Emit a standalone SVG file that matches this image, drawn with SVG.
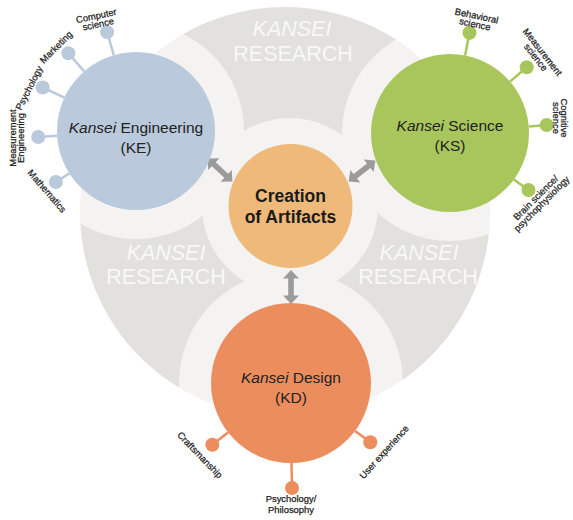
<svg xmlns="http://www.w3.org/2000/svg" width="573" height="520" viewBox="0 0 573 520">
  <style>
    .sat { font-family: "Liberation Sans", Arial, sans-serif; font-size: 9.4px; fill: #1c1c1c; stroke: #1c1c1c; stroke-width: 0.25px; text-anchor: middle; }
    .node { font-family: "Liberation Sans", Arial, sans-serif; font-size: 15.5px; fill: #222; text-anchor: middle; }
    .bg { font-family: "Liberation Sans", Arial, sans-serif; font-size: 21.5px; fill: #ffffff; fill-opacity: 0.8; text-anchor: middle; }
    .ke { fill: #bac9db; }
    .ks { fill: #a9c65c; }
    .kd { fill: #ec8d5e; }
    .ke-l { stroke: #bac9db; stroke-width: 2.5; }
    .ks-l { stroke: #a9c65c; stroke-width: 2.5; }
    .kd-l { stroke: #ec8d5e; stroke-width: 2.5; }
  </style>
  <defs>
    <clipPath id="researchClip">
      <circle cx="285" cy="212" r="205"/>
    </clipPath>
    <path id="dblArrow" d="M -17 0 L -8.5 -8 L -8.5 -2.8 L 8.5 -2.8 L 8.5 -8 L 17 0 L 8.5 8 L 8.5 2.8 L -8.5 2.8 L -8.5 8 Z"/>
  </defs>

  <rect width="573" height="520" fill="#ffffff"/>

  <!-- Kansei research backdrop -->
  <g id="research-backdrop">
    <circle cx="285" cy="212" r="205" fill="#e2e1de"/>
    <g opacity="0.62" fill="#ffffff">
      <circle cx="136" cy="131" r="108"/>
      <circle cx="450" cy="133" r="108"/>
      <circle cx="291" cy="383" r="112"/>
      <circle cx="290" cy="206" r="88"/>
    </g>
    <g clip-path="url(#researchClip)">
      <text class="bg" x="292" y="36" font-style="italic">KANSEI</text>
      <text class="bg" x="293" y="61">RESEARCH</text>
      <text class="bg" x="166" y="260" font-style="italic">KANSEI</text>
      <text class="bg" x="166" y="284">RESEARCH</text>
      <text class="bg" x="419" y="260" font-style="italic">KANSEI</text>
      <text class="bg" x="418" y="284">RESEARCH</text>
    </g>
  </g>

  <!-- links between the centre and the three fields -->
  <g id="connectors" fill="#9b9b9b">
    <use href="#dblArrow" transform="translate(220 170) rotate(43)"/>
    <use href="#dblArrow" transform="translate(362 171) rotate(-38)"/>
    <use href="#dblArrow" transform="translate(291 287) rotate(90)"/>
  </g>

  <!-- Kansei Engineering -->
  <g id="node-ke">
    <g class="ke-l">
      <line x1="113.8" y1="55.2" x2="107.1" y2="32.1"/>
      <line x1="84.2" y1="71.4" x2="68.4" y2="53.2"/>
      <line x1="64.4" y1="97.6" x2="42.7" y2="87.5"/>
      <line x1="57.2" y1="135.8" x2="38.2" y2="137"/>
      <line x1="69.4" y1="173.4" x2="55.9" y2="182"/>
    </g>
    <g class="ke">
      <circle cx="107.1" cy="32.1" r="7"/>
      <circle cx="68.4" cy="53.2" r="7"/>
      <circle cx="42.7" cy="87.5" r="7"/>
      <circle cx="38.2" cy="137" r="7"/>
      <circle cx="55.9" cy="182" r="7"/>
      <circle cx="136" cy="131" r="79"/>
    </g>
    <text class="node" x="136" y="133"><tspan font-style="italic">Kansei</tspan> Engineering</text>
    <text class="node" x="136" y="153">(KE)</text>
    <text class="sat" transform="translate(97 19) rotate(-12)"><tspan x="0" y="0">Computer</tspan><tspan x="0" y="8.5">science</tspan></text>
    <text class="sat" transform="translate(56 47) rotate(-45)" y="3.3">Marketing</text>
    <text class="sat" transform="translate(29 88) rotate(-63)" y="3.3">Psychology</text>
    <text class="sat" transform="translate(15.5 138) rotate(-90)"><tspan x="0" y="0">Measurement</tspan><tspan x="0" y="8.5">Engineering</tspan></text>
    <text class="sat" transform="translate(47 191) rotate(49)" y="3.3">Mathematics</text>
  </g>

  <!-- Kansei Science -->
  <g id="node-ks">
    <g class="ks-l">
      <line x1="465.1" y1="55.4" x2="469.5" y2="32.8"/>
      <line x1="510" y1="81.6" x2="526.7" y2="67.3"/>
      <line x1="528.8" y1="126.5" x2="546.7" y2="125"/>
      <line x1="513.9" y1="179.4" x2="528.5" y2="190"/>
    </g>
    <g class="ks">
      <circle cx="469.5" cy="32.8" r="7"/>
      <circle cx="526.7" cy="67.3" r="7"/>
      <circle cx="546.7" cy="125" r="7"/>
      <circle cx="528.5" cy="190" r="7"/>
      <circle cx="450" cy="133" r="79"/>
    </g>
    <text class="node" x="450" y="131"><tspan font-style="italic">Kansei</tspan> Science</text>
    <text class="node" x="450" y="151">(KS)</text>
    <text class="sat" transform="translate(476 19) rotate(12)"><tspan x="0" y="0">Behavioral</tspan><tspan x="0" y="8.5">science</tspan></text>
    <text class="sat" transform="translate(540 54) rotate(52)"><tspan x="0" y="0">Measurement</tspan><tspan x="0" y="8.5">science</tspan></text>
    <text class="sat" transform="translate(561 118) rotate(90)"><tspan x="0" y="0">Cognitive</tspan><tspan x="0" y="8.5">science</tspan></text>
    <text class="sat" transform="translate(538 200) rotate(-45)" font-size="9"><tspan x="0" y="0">Brain science/</tspan><tspan x="0" y="8.5">psychophysiology</tspan></text>
  </g>

  <!-- Kansei Design -->
  <g id="node-kd">
    <g class="kd-l">
      <line x1="228" y1="432.4" x2="212.3" y2="444.7"/>
      <line x1="291.5" y1="463" x2="292" y2="488"/>
      <line x1="355.1" y1="430.9" x2="370.3" y2="442.3"/>
    </g>
    <g class="kd">
      <circle cx="212.3" cy="444.7" r="7"/>
      <circle cx="292" cy="488" r="7"/>
      <circle cx="370.3" cy="442.3" r="7"/>
      <circle cx="291" cy="383" r="80"/>
    </g>
    <text class="node" x="291" y="383"><tspan font-style="italic">Kansei</tspan> Design</text>
    <text class="node" x="291" y="403">(KD)</text>
    <text class="sat" transform="translate(200 455) rotate(46)" y="3.3">Craftsmanship</text>
    <text class="sat" transform="translate(384 452) rotate(-48)" y="3.3">User experience</text>
    <text class="sat" x="291" y="502">Psychology/</text>
    <text class="sat" x="291" y="513">Philosophy</text>
  </g>

  <!-- Creation of Artifacts -->
  <g id="node-center">
    <circle cx="290.5" cy="206" r="62" fill="#efb979"/>
    <text x="290.5" y="202" font-family="Liberation Sans, Arial, sans-serif" font-size="17.5" font-weight="bold" fill="#1a1a1a" text-anchor="middle">Creation</text>
    <text x="290.5" y="223" font-family="Liberation Sans, Arial, sans-serif" font-size="17.5" font-weight="bold" fill="#1a1a1a" text-anchor="middle">of Artifacts</text>
  </g>
</svg>
